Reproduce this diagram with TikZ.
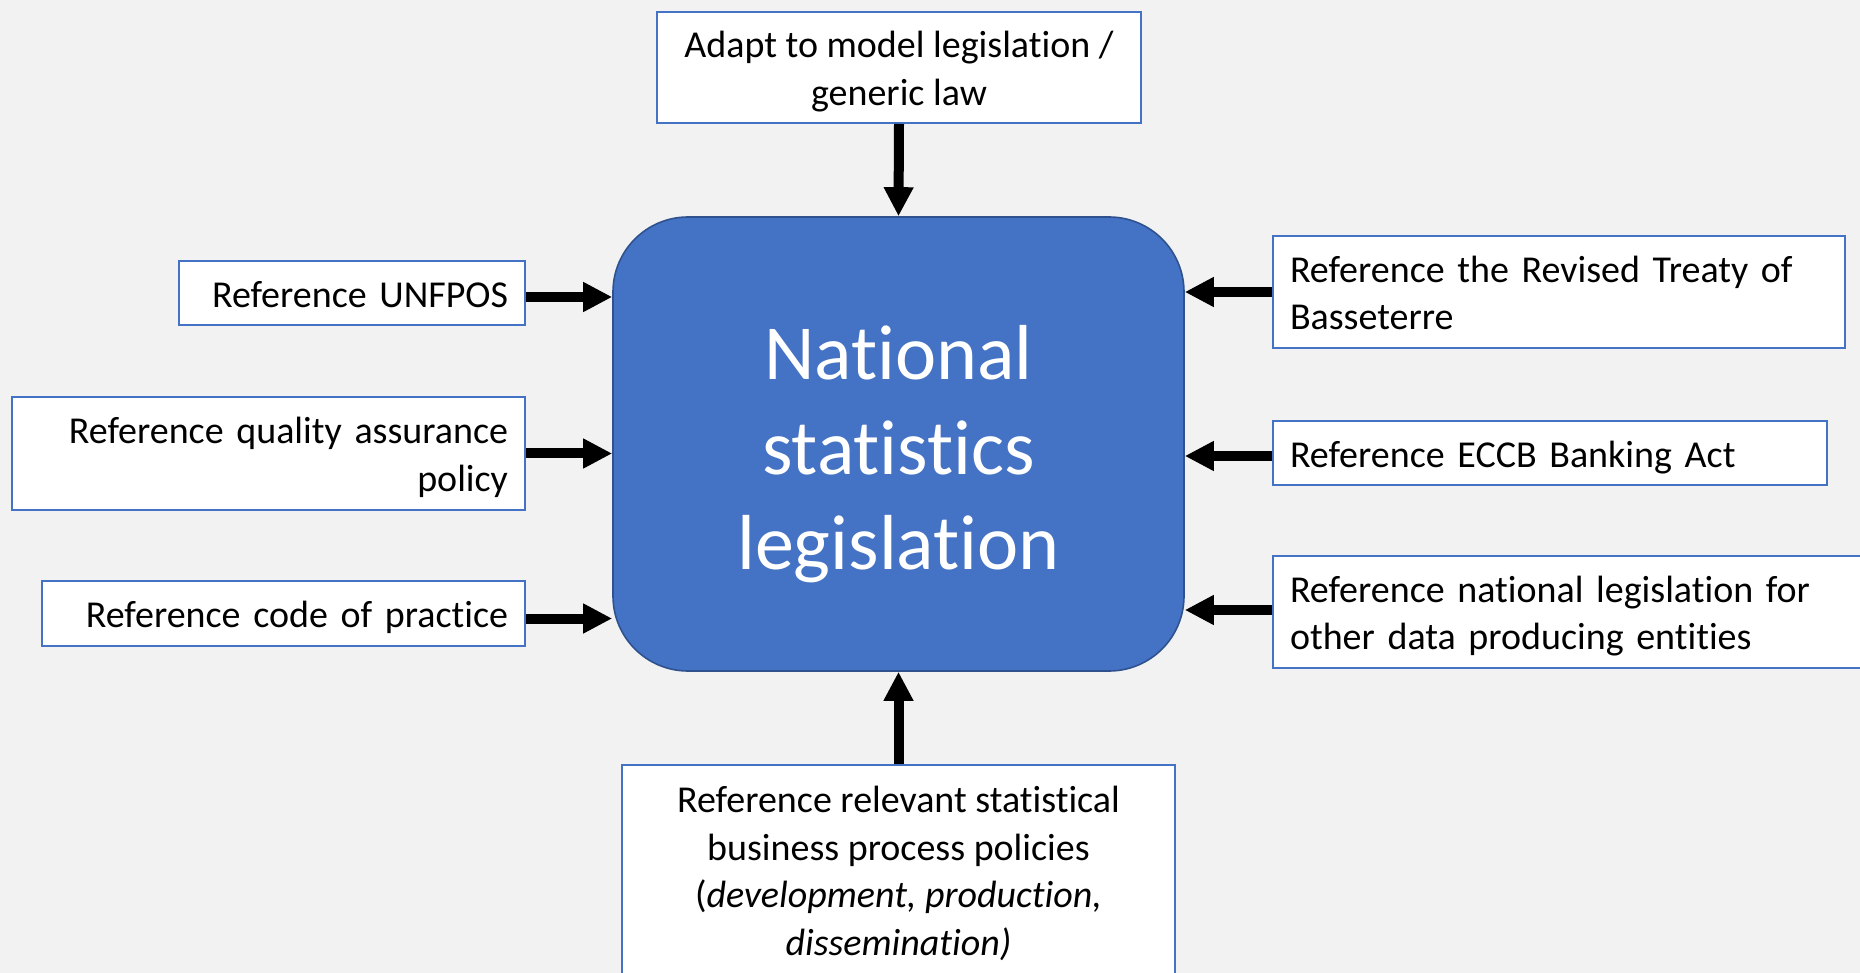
\documentclass[tikz,border=0pt]{standalone}
\usepackage{fontspec}
\setmainfont{Carlito}[Ligatures=NoCommon]
\usetikzlibrary{arrows.meta}
\definecolor{bgcol}{HTML}{F2F2F2}
\definecolor{accent}{HTML}{4472C4}
\definecolor{accentdark}{HTML}{2F528F}
\newcommand\boxstrut{\rule[-4.7pt]{0pt}{23.6pt}}
\begin{document}
\begin{tikzpicture}[x=0.5pt,y=-0.5pt,
  refbox/.style={draw=accent, line width=1pt, fill=white, inner xsep=8.5pt, inner ysep=0pt,
    font=\fontsize{19}{23.75}\selectfont, text=black},
  mainbox/.style={draw=accentdark, line width=0.8pt, fill=accent, rounded corners=37.5pt,
    minimum width=285.5pt, minimum height=227pt},
  maintext/.style={text=white, align=center, font=\fontsize{39}{47.5}\selectfont},
  arr/.style={line width=5pt, -{Triangle[length=14.5pt,width=14pt]}}]
\clip (0,0) rectangle (1860,973);
\fill[bgcol] (0,0) rectangle (1860,973);

\node[mainbox] (main) at (898.5,444) {};
\node[maintext] (mainlabel) at (898.5,454) {National\\statistics\\legislation};

\node[refbox, minimum width=242pt, minimum height=55.5pt, align=center] (top) at (899,67.5)
  {\boxstrut Adapt to model legislation /\\\boxstrut generic law};
\node[refbox, text width=156pt, minimum height=32pt, align=right] (unfpos) at (352,293)
  {\boxstrut Reference UNFPOS};
\node[refbox, text width=239.5pt, minimum height=56.5pt, align=right] (quality) at (268.5,453.5)
  {\boxstrut Reference quality assurance\\\boxstrut policy};
\node[refbox, text width=224.5pt, minimum height=32.5pt, align=right] (code) at (283.5,613.5)
  {\boxstrut Reference code of practice};
\node[refbox, text width=269pt, minimum height=56pt, align=left] (treaty) at (1559,292)
  {\boxstrut Reference the Revised Treaty of\\\boxstrut Basseterre};
\node[refbox, text width=260pt, minimum height=32pt, align=left] (eccb) at (1550,453)
  {\boxstrut Reference ECCB Banking Act};
\node[refbox, text width=281.5pt, minimum height=56pt, align=left] (natleg) at (1571.5,612)
  {\boxstrut Reference national legislation for\\\boxstrut other data producing entities};
\node[refbox, minimum width=276.5pt, minimum height=105pt, align=center] (bottom) at (898.5,870)
  {\boxstrut Reference relevant statistical\\\boxstrut business process policies\\\boxstrut (\textit{development, production,}\\\boxstrut\textit{dissemination)}};

\draw[arr] (top.south) -- (main.north);
\draw[arr] (bottom.north) -- (main.south);
\draw[arr] ([yshift=-2pt]unfpos.east) -- ([yshift=-2pt]unfpos.east -| main.west);
\draw[arr] (quality.east) -- (quality.east -| main.west);
\draw[arr] ([yshift=-2.5pt]code.east) -- ([yshift=-2.5pt]code.east -| main.west);
\draw[arr] (treaty.west) -- (treaty.west -| main.east);
\draw[arr] ([yshift=-1.5pt]eccb.west) -- ([yshift=-1.5pt]eccb.west -| main.east);
\draw[arr] ([yshift=1pt]natleg.west) -- ([yshift=1pt]natleg.west -| main.east);
\end{tikzpicture}
\end{document}
